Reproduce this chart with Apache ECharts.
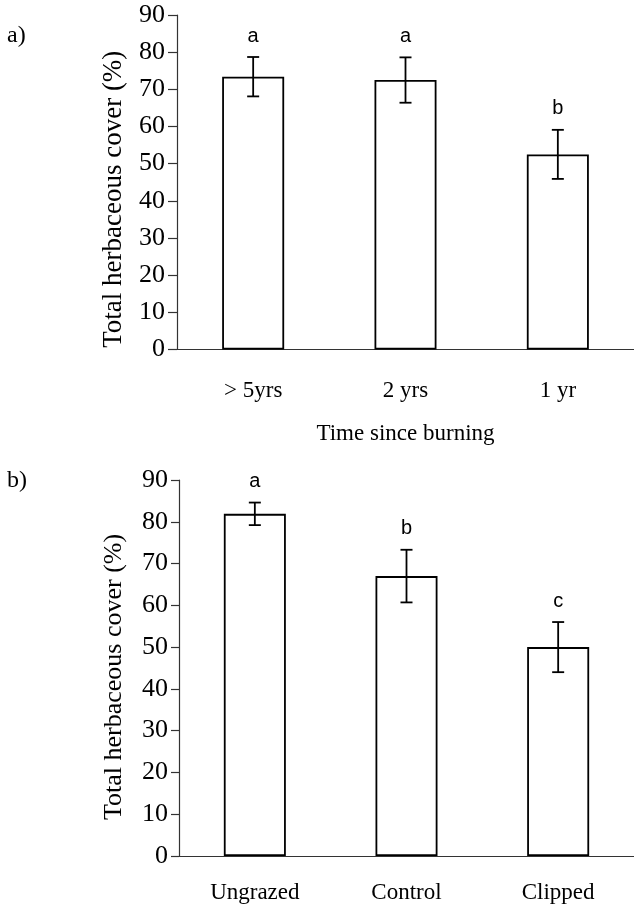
<!DOCTYPE html>
<html>
<head>
<meta charset="utf-8">
<script src="https://cdn.jsdelivr.net/npm/echarts@6/dist/echarts.min.js"></script>
<style>
  html, body { margin: 0; padding: 0; background: #fff; }
  #chart { width: 634px; height: 906px; }
</style>
</head>
<body>
<div id="chart"></div>
<script>
// Panel a: herbaceous cover by time since burning
const burnCategories = ['> 5yrs', '2 yrs', '1 yr'];
const burnMeans = [73.4, 72.5, 52.5];
const burnErrors = [5.3, 6.1, 6.6];
const burnLetters = ['a', 'a', 'b'];

// Panel b: herbaceous cover by grazing treatment
const grazeCategories = ['Ungrazed', 'Control', 'Clipped'];
const grazeMeans = [81.9, 67.0, 50.0];
const grazeErrors = [2.7, 6.3, 6.0];
const grazeLetters = ['a', 'b', 'c'];

// Shared y-axis tick labels
const yTicks = [0, 10, 20, 30, 40, 50, 60, 70, 80, 90];

const SERIF = '"Liberation Serif", "Times New Roman", serif';
const SANS = '"Liberation Sans", Arial, sans-serif';
const AXIS_COLOR = '#333';

function errorBarItem(letters) {
  return function (params, api) {
    const idx = api.value(0);
    const mean = api.value(1);
    const err = api.value(2);
    const top = api.coord([idx, mean + err]);
    const bot = api.coord([idx, mean - err]);
    const cap = 6;
    const lineStyle = { stroke: '#000', lineWidth: 1.8 };
    return {
      type: 'group',
      children: [
        { type: 'line', shape: { x1: top[0], y1: top[1], x2: bot[0], y2: bot[1] }, style: lineStyle },
        { type: 'line', shape: { x1: top[0] - cap, y1: top[1], x2: top[0] + cap, y2: top[1] }, style: lineStyle },
        { type: 'line', shape: { x1: bot[0] - cap, y1: bot[1], x2: bot[0] + cap, y2: bot[1] }, style: lineStyle },
        {
          type: 'text',
          style: {
            x: top[0], y: top[1] - 11,
            text: letters[params.dataIndex],
            font: '20px ' + SANS,
            fill: '#000',
            align: 'center',
            verticalAlign: 'bottom'
          }
        }
      ]
    };
  };
}

function yAxisFor(gridIndex, nameGap, shift, tickLen, fontSize) {
  return {
    type: 'value',
    gridIndex: gridIndex,
    min: yTicks[0],
    max: yTicks[yTicks.length - 1],
    interval: yTicks[1] - yTicks[0],
    name: 'Total herbaceous cover (%)',
    nameLocation: 'middle',
    nameGap: nameGap,
    nameTextStyle: {
      fontFamily: SERIF, fontSize: fontSize, color: '#000',
      padding: [0, shift, 0, 0]
    },
    splitLine: { show: false },
    axisLine: { show: true, lineStyle: { color: AXIS_COLOR, width: 1.2 } },
    axisTick: { show: true, length: tickLen, lineStyle: { color: AXIS_COLOR, width: 1.2 } },
    axisLabel: { fontFamily: SERIF, fontSize: 26, color: '#000', margin: tickLen + 3 }
  };
}

function xAxisFor(gridIndex, cats, name, labelMargin) {
  return {
    type: 'category',
    gridIndex: gridIndex,
    data: cats,
    name: name,
    nameLocation: 'middle',
    nameGap: 73,
    nameTextStyle: { fontFamily: SERIF, fontSize: 23, color: '#000' },
    axisLine: { show: true, lineStyle: { color: AXIS_COLOR, width: 1.2 } },
    axisTick: { show: false },
    axisLabel: { fontFamily: SERIF, fontSize: 23, color: '#000', margin: labelMargin }
  };
}

function barSeries(axisIndex, values) {
  return {
    type: 'bar',
    xAxisIndex: axisIndex,
    yAxisIndex: axisIndex,
    data: values,
    barWidth: 62,
    itemStyle: { color: '#fff', borderColor: '#000', borderWidth: 1.8 },
    emphasis: { disabled: true },
    silent: true,
    z: 2
  };
}

function errSeries(axisIndex, means, errs, letters) {
  return {
    type: 'custom',
    xAxisIndex: axisIndex,
    yAxisIndex: axisIndex,
    data: means.map((m, i) => [i, m, errs[i]]),
    renderItem: errorBarItem(letters),
    silent: true,
    z: 3
  };
}

const chart = echarts.init(document.getElementById('chart'), null, { renderer: 'canvas' });
chart.setOption({
  animation: false,
  backgroundColor: '#fff',
  title: [
    { text: 'a)', left: 2, top: 19, textStyle: { fontFamily: SERIF, fontSize: 24, fontWeight: 'normal', color: '#000' } },
    { text: 'b)', left: 2, top: 464, textStyle: { fontFamily: SERIF, fontSize: 24, fontWeight: 'normal', color: '#000' } }
  ],
  grid: [
    { left: 177, top: 15, width: 466.5, height: 334.5 },
    { left: 179, top: 480, width: 456, height: 376 }
  ],
  xAxis: [
    xAxisFor(0, burnCategories, 'Time since burning', 30),
    xAxisFor(1, grazeCategories, '', 25)
  ],
  yAxis: [
    yAxisFor(0, 50, 34, 9, 27),
    yAxisFor(1, 52, 18, 8, 26)
  ],
  series: [
    barSeries(0, burnMeans),
    errSeries(0, burnMeans, burnErrors, burnLetters),
    barSeries(1, grazeMeans),
    errSeries(1, grazeMeans, grazeErrors, grazeLetters)
  ]
});
</script>
</body>
</html>
